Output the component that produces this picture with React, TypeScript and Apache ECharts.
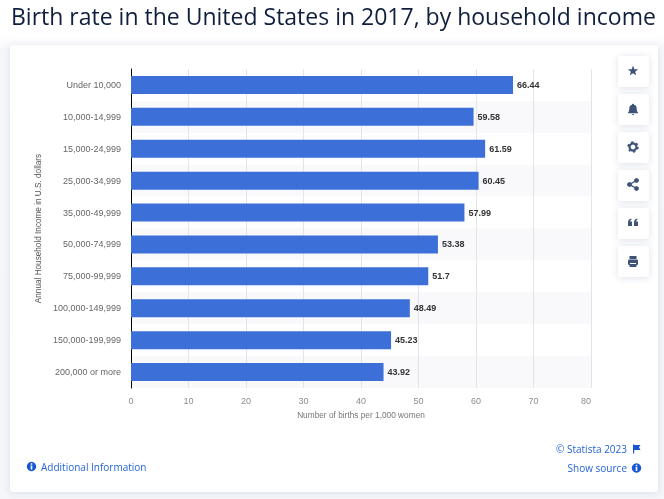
import React, { useEffect, useRef } from "react";
import * as echarts from "echarts";

const titleText = "Birth rate in the United States in 2017, by household income";
const categories = [
  "Under 10,000", "10,000-14,999", "15,000-24,999", "25,000-34,999", "35,000-49,999",
  "50,000-74,999", "75,000-99,999", "100,000-149,999", "150,000-199,999", "200,000 or more",
];
const values = [66.44, 59.58, 61.59, 60.45, 57.99, 53.38, 51.7, 48.49, 45.23, 43.92];
const yAxisName = "Annual Household Income in U.S. dollars";
const xAxisName = "Number of births per 1,000 women";

const ICON = "#3f5378";
const LINK = "#2563d9";

echarts.graphic.registerShape("bellIcon", echarts.graphic.extendPath(
  "M6 0.8C6.5 0.8 7 1.2 7 1.7C8.9 2.2 9.7 3.6 9.7 5.4C9.7 7.6 10.2 8.6 11 9.6L11 10.2L1 10.2L1 9.6C1.8 8.6 2.3 7.6 2.3 5.4C2.3 3.6 3.1 2.2 5 1.7C5 1.2 5.5 0.8 6 0.8ZM5 11L7 11C7 11.6 6.5 12 6 12C5.5 12 5 11.6 5 11Z", {}) as any);
echarts.graphic.registerShape("quoteIcon", echarts.graphic.extendPath(
  "M0 4.5C0 2.3 1.2 0.8 3.3 0.5L3.3 2C2.5 2.2 2 2.8 2 3.6L4 3.6L4 8L0 8ZM6 4.5C6 2.3 7.2 0.8 9.3 0.5L9.3 2C8.5 2.2 8 2.8 8 3.6L10 3.6L10 8L6 8Z", {}) as any);
echarts.graphic.registerShape("flagIcon", echarts.graphic.extendPath(
  "M0 0L1.2 0L1.2 9L0 9ZM1.2 0.6L7.5 0.6L6 2.8L7.5 5.4L1.2 5.4Z", {}) as any);

const buttonTops = [56, 94, 132, 170, 208, 246];

function infoIcon(cx: number, cy: number): any[] {
  return [
    { type: "circle", z: 5, shape: { cx, cy, r: 4.7 }, style: { fill: "#1557d4" } },
    { type: "rect", z: 6, shape: { x: cx - 0.8, y: cy - 3.2, width: 1.6, height: 1.5 }, style: { fill: "#fff" } },
    { type: "rect", z: 6, shape: { x: cx - 0.8, y: cy - 1, width: 1.6, height: 4 }, style: { fill: "#fff" } },
  ];
}

function buildGraphics(): any[] {
  const g: any[] = [
    { type: "rect", z: -30, silent: true, shape: { x: 0, y: 0, width: 664, height: 499 },
      style: { fill: new echarts.graphic.LinearGradient(0, 0, 0, 1, [
        { offset: 0, color: "#ffffff" }, { offset: 0.07, color: "#ffffff" },
        { offset: 0.1, color: "#f6f7fb" }, { offset: 1, color: "#f4f6fa" } ]) } },
    { type: "rect", z: -20, silent: true, shape: { x: 10, y: 45, width: 648, height: 447, r: 4 },
      style: { fill: "#ffffff", shadowBlur: 6, shadowColor: "rgba(60,80,120,0.14)", shadowOffsetY: 1 } },
  ];
  for (const y of buttonTops) {
    g.push({ type: "rect", z: 3, silent: true, shape: { x: 618, y, width: 31, height: 31, r: 3 },
      style: { fill: "#ffffff", shadowBlur: 6, shadowColor: "rgba(60,80,120,0.18)", shadowOffsetY: 1 } });
  }
  const cx = 633;
  // star
  const pts: number[][] = [];
  for (let i = 0; i < 10; i++) {
    const a = -Math.PI / 2 + (i * Math.PI) / 5;
    const r = i % 2 === 0 ? 5.4 : 2.3;
    pts.push([cx + r * Math.cos(a), 71 + r * Math.sin(a)]);
  }
  g.push({ type: "polygon", z: 5, shape: { points: pts }, style: { fill: ICON } });
  // bell
  g.push({ type: "bellIcon", z: 5, x: cx - 6, y: 103, style: { fill: ICON } });
  // gear
  g.push({ type: "circle", z: 5, shape: { cx, cy: 147, r: 3.5 }, style: { fill: "none", stroke: ICON, lineWidth: 2.2 } });
  g.push({ type: "circle", z: 5, shape: { cx, cy: 147, r: 5 }, style: { fill: "none", stroke: ICON, lineWidth: 1.5, lineDash: [2.4, 2.84] } });
  // share
  g.push({ type: "polyline", z: 5, shape: { points: [[cx + 3.5, 180.5], [cx - 3.5, 184.5], [cx + 3.5, 188.5]] }, style: { fill: "none", stroke: ICON, lineWidth: 1.4 } });
  for (const [x, y] of [[cx + 3.5, 180.5], [cx - 3.5, 184.5], [cx + 3.5, 188.5]]) {
    g.push({ type: "circle", z: 5, shape: { cx: x, cy: y, r: 2.4 }, style: { fill: ICON } });
  }
  // quote
  g.push({ type: "quoteIcon", z: 5, x: cx - 5, y: 218, style: { fill: ICON } });
  // print
  g.push({ type: "rect", z: 5, shape: { x: cx - 3.5, y: 256, width: 7, height: 3 }, style: { fill: ICON } });
  g.push({ type: "rect", z: 5, shape: { x: cx - 5, y: 259.5, width: 10, height: 5.5, r: 1 }, style: { fill: ICON } });
  g.push({ type: "rect", z: 6, shape: { x: cx - 3, y: 263, width: 6, height: 1 }, style: { fill: "#fff" } });
  g.push({ type: "rect", z: 5, shape: { x: cx - 3.5, y: 264, width: 7, height: 3 }, style: { fill: ICON } });

  // footer
  g.push(...infoIcon(31.5, 466.5));
  g.push(...infoIcon(636.5, 468));
  g.push({ type: "flagIcon", z: 5, x: 633, y: 444.5, style: { fill: "#1557d4" } });
  g.push({ type: "text", z: 5, x: 41, y: 466.5, style: { text: "Additional Information", fill: LINK, font: "400 10px 'Open Sans'", verticalAlign: "middle", align: "left" } });
  g.push({ type: "text", z: 5, x: 627, y: 449, style: { text: "© Statista 2023", fill: LINK, font: "400 10px 'Open Sans'", verticalAlign: "middle", align: "right" } });
  g.push({ type: "text", z: 5, x: 627, y: 468, style: { text: "Show source", fill: LINK, font: "400 10px 'Open Sans'", verticalAlign: "middle", align: "right" } });
  return g;
}

export default function App() {
  const ref = useRef<HTMLDivElement>(null);
  useEffect(() => {
    const chart = echarts.init(ref.current!, null, { renderer: "svg" });
    chart.setOption({
      animation: false,
      title: {
        text: titleText, left: 11, top: 4, padding: 0,
        textStyle: { fontFamily: "'Open Sans'", fontSize: 23, fontWeight: 500, color: "#0f1f3d" },
      },
      grid: { left: 131, right: 73, top: 69, bottom: 111 },
      xAxis: {
        type: "value", min: 0, max: 80, interval: 10,
        name: xAxisName, nameLocation: "middle", nameGap: 23,
        nameTextStyle: { fontFamily: "'Liberation Sans'", fontSize: 8.3, color: "#777" },
        axisLine: { show: false }, axisTick: { show: false },
        axisLabel: { fontFamily: "'Liberation Sans'", fontSize: 9, color: "#8c8c8c", margin: 8, alignMaxLabel: "right" },
        splitLine: { show: true, lineStyle: { color: "#e4e4e6", width: 1 } },
      },
      yAxis: {
        type: "category", inverse: true, data: categories,
        name: yAxisName, nameLocation: "middle", nameGap: 85,
        nameTextStyle: { fontFamily: "'Liberation Sans'", fontSize: 8.2, color: "#555" },
        axisLine: { show: true, lineStyle: { color: "#000", width: 1 } },
        axisTick: { show: false },
        axisLabel: { fontFamily: "'Liberation Sans'", fontSize: 9, color: "#666", margin: 10 },
        splitLine: { show: false },
        splitArea: { show: true, areaStyle: { color: ["rgba(255,255,255,0)", "#f9f9fb"] } },
      },
      series: [{
        type: "bar", data: values, barWidth: 18,
        itemStyle: { color: "#3d6fd8" },
        label: {
          show: true, position: "right", distance: 4,
          fontFamily: "'Liberation Sans'", fontSize: 9, fontWeight: "bold", color: "#333",
        },
      }],
      graphic: buildGraphics(),
    });
    return () => chart.dispose();
  }, []);
  return <div ref={ref} style={{ position: "fixed", left: 0, top: 0, width: 664, height: 499 }} />;
}
